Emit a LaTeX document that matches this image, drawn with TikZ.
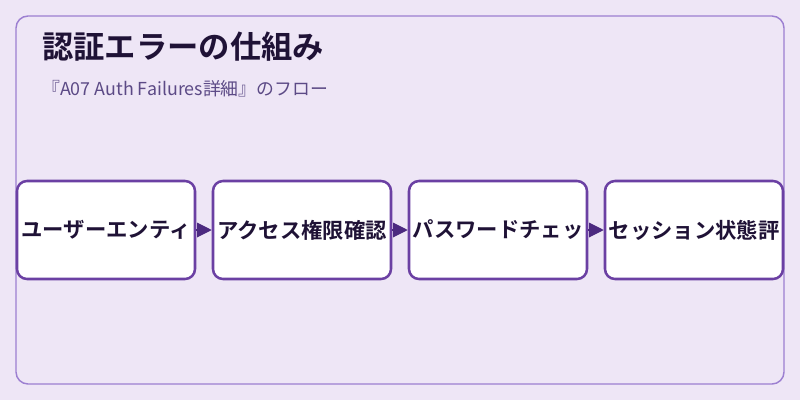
\documentclass[tikz,border=0pt]{standalone}
\usepackage{fontspec}
\setmainfont{Noto Sans CJK JP}
\newfontfamily\jpbold{Noto Sans CJK JP Bold}
\usetikzlibrary{arrows.meta}
\definecolor{bgpurple}{HTML}{EEE6F6}
\definecolor{framepurple}{HTML}{9C7FD1}
\definecolor{boxpurple}{HTML}{6B40A3}
\definecolor{arrowpurple}{HTML}{4C2A80}
\definecolor{titleink}{HTML}{1F1236}
\definecolor{subink}{HTML}{5C4A86}
\tikzset{
  stepbox/.style={draw=boxpurple, line width=1.9pt, fill=white, rounded corners=7.5pt,
    minimum width=133.5pt, minimum height=73.5pt, inner sep=0pt,
    font=\jpbold\fontsize{16pt}{18pt}\selectfont, text=titleink},
  flow/.style={-{Triangle[length=11pt,width=11pt]}, draw=arrowpurple, fill=arrowpurple, line width=0.8pt}
}
\begin{document}
\begin{tikzpicture}[x=0.75pt,y=-0.75pt] % pixel units, y down
      \useasboundingbox[fill=bgpurple] (0,0) rectangle (800,400);
      \draw[framepurple, line width=1.1pt, rounded corners=9pt] (16,16) rectangle (784,384);
      \node[anchor=base west, inner sep=0pt, text=titleink, font=\jpbold\fontsize{23.5pt}{26pt}\selectfont] (title) at (42,58) {認証エラーの仕組み};
      \node[anchor=base west, inner sep=0pt, text=subink, font=\fontsize{13.4pt}{15pt}\selectfont] (subtitle) at (42,95) {『A07 Auth Failures詳細』のフロー};
      \foreach \i/\name/\txt in {0/user/ユーザーエンティ, 1/access/アクセス権限確認, 2/passwd/パスワードチェッ, 3/session/セッション状態評}{
          \node[stepbox] (\name) at (106+196*\i,230) {\txt};
        }
      \draw[flow] (user) -- (access);
      \draw[flow] (access) -- (passwd);
      \draw[flow] (passwd) -- (session);
    \end{tikzpicture}
\end{document}
